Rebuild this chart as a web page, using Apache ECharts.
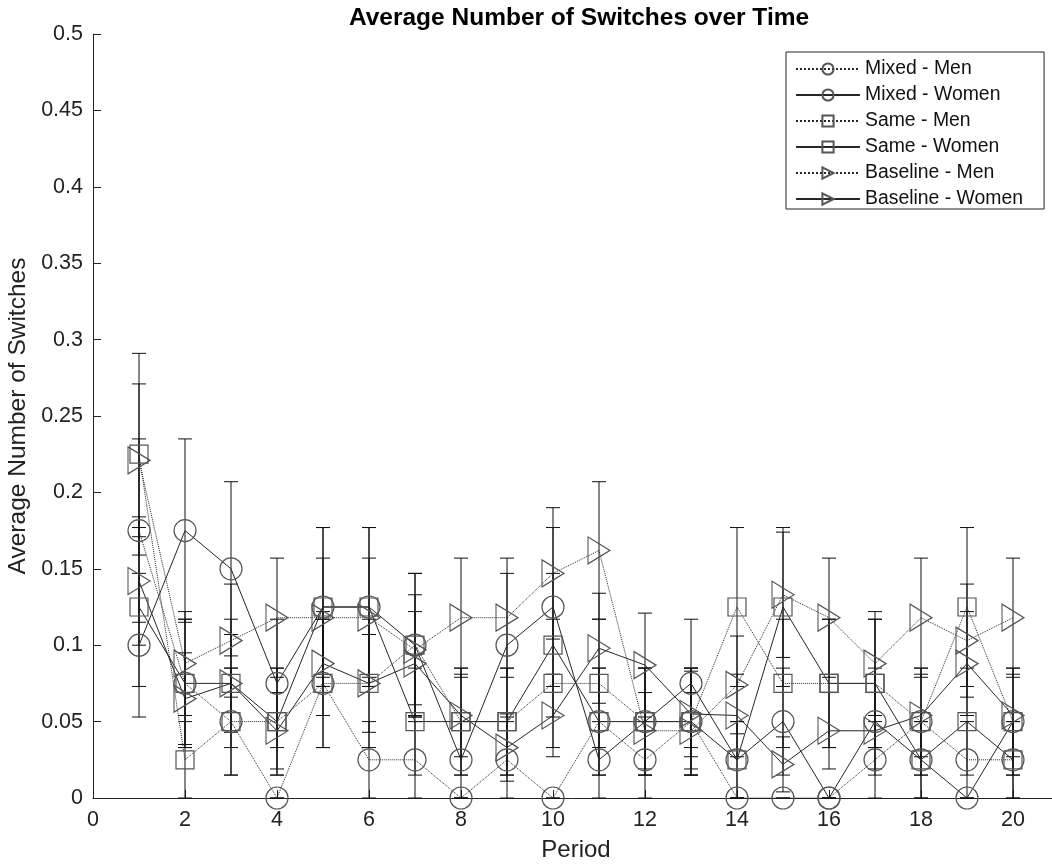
<!DOCTYPE html>
<html>
<head>
<meta charset="utf-8">
<script src="https://cdn.jsdelivr.net/npm/echarts@6/dist/echarts.min.js"></script>
<style>html,body{margin:0;padding:0;background:#fff;}#c{width:1052px;height:865px;}</style>
</head>
<body>
<div id="c"></div>
<script>
const periods = [1,2,3,4,5,6,7,8,9,10,11,12,13,14,15,16,17,18,19,20];
const xTicks = [0,2,4,6,8,10,12,14,16,18,20];

const mixedMen     = [0.175,0.075,0.05,0,0.075,0.025,0.025,0,0.025,0,0.05,0.025,0.05,0,0,0,0.025,0.05,0.025,0.025];
const mixedMenErr  = [0.060,0.042,0.035,0,0.042,0.025,0.025,0,0.025,0,0.035,0.025,0.035,0,0,0,0.025,0.035,0.025,0.025];
const mixedWomen    = [0.1,0.175,0.15,0.075,0.125,0.125,0.1,0.025,0.1,0.125,0.025,0.05,0.075,0.025,0.05,0,0.05,0.025,0,0.05];
const mixedWomenErr = [0.047,0.060,0.057,0.042,0.052,0.052,0.047,0.025,0.047,0.052,0.025,0.035,0.042,0.025,0.035,0,0.035,0.025,0,0.035];
const sameMen     = [0.225,0.025,0.05,0.05,0.075,0.075,0.1,0.05,0.05,0.075,0.075,0.05,0.05,0.125,0.075,0.075,0.075,0.05,0.125,0.05];
const sameMenErr  = [0.066,0.025,0.035,0.035,0.042,0.042,0.047,0.035,0.035,0.042,0.042,0.035,0.035,0.052,0.042,0.042,0.042,0.035,0.052,0.035];
const sameWomen    = [0.125,0.075,0.075,0.05,0.125,0.125,0.05,0.05,0.05,0.1,0.05,0.05,0.05,0.025,0.125,0.075,0.075,0.025,0.05,0.025];
const sameWomenErr = [0.052,0.042,0.042,0.035,0.052,0.052,0.035,0.035,0.035,0.047,0.035,0.035,0.035,0.025,0.052,0.042,0.042,0.025,0.035,0.025];
const baseMen     = [0.221,0.088,0.103,0.118,0.118,0.118,0.097,0.118,0.118,0.147,0.162,0.044,0.044,0.074,0.133,0.118,0.088,0.118,0.103,0.118];
const baseMenErr  = [0.050,0.034,0.037,0.039,0.039,0.039,0.036,0.039,0.039,0.043,0.045,0.025,0.025,0.032,0.041,0.039,0.034,0.039,0.037,0.039];
const baseWomen    = [0.142,0.065,0.075,0.044,0.088,0.075,0.088,0.054,0.033,0.054,0.098,0.087,0.055,0.054,0.022,0.044,0.044,0.054,0.088,0.054];
const baseWomenErr = [0.042,0.030,0.032,0.025,0.034,0.032,0.034,0.027,0.022,0.027,0.036,0.034,0.028,0.027,0.018,0.025,0.025,0.027,0.034,0.027];

const names = ['Mixed - Men','Mixed - Women','Same - Men','Same - Women','Baseline - Men','Baseline - Women'];

const FONT = '"Liberation Sans", Arial, Helvetica, sans-serif';
const LINE = '#262626';
const MARK = '#555555';

function pairs(v, e) { return periods.map((p, i) => [p, v[i], e[i]]); }

const defs = [
  {name: names[0], v: mixedMen, e: mixedMenErr, dash: 'dotted', sym: 'circle', size: 22, rot: 0},
  {name: names[1], v: mixedWomen, e: mixedWomenErr, dash: 'solid', sym: 'circle', size: 22, rot: 0},
  {name: names[2], v: sameMen, e: sameMenErr, dash: 'dotted', sym: 'rect', size: 18, rot: 0},
  {name: names[3], v: sameWomen, e: sameWomenErr, dash: 'solid', sym: 'rect', size: 18, rot: 0},
  {name: names[4], v: baseMen, e: baseMenErr, dash: 'dotted', sym: 'triangle', size: [27, 22], rot: -90},
  {name: names[5], v: baseWomen, e: baseWomenErr, dash: 'solid', sym: 'triangle', size: [27, 22], rot: -90}
];

const series = [];
defs.forEach(d => {
  series.push({
    type: 'custom',
    name: d.name + ' err',
    data: pairs(d.v, d.e),
    silent: true,
    z: 2,
    renderItem: function (params, api) {
      const x = api.value(0), y = api.value(1), e = api.value(2);
      const top = api.coord([x, y + e]);
      const bot = api.coord([x, y - e]);
      const hw = 7;
      const st = {stroke: '#111', lineWidth: 1};
      return {
        type: 'group',
        children: [
          {type: 'line', shape: {x1: top[0], y1: top[1], x2: bot[0], y2: bot[1]}, style: st},
          {type: 'line', shape: {x1: top[0] - hw, y1: top[1], x2: top[0] + hw, y2: top[1]}, style: st},
          {type: 'line', shape: {x1: bot[0] - hw, y1: bot[1], x2: bot[0] + hw, y2: bot[1]}, style: st}
        ]
      };
    }
  });
  series.push({
    type: 'line',
    name: d.name,
    data: periods.map((p, i) => [p, d.v[i]]),
    symbol: d.sym,
    symbolSize: d.size,
    symbolRotate: d.rot,
    showAllSymbol: true,
    z: 3,
    lineStyle: {color: LINE, width: 1, type: d.dash},
    itemStyle: {color: 'rgba(255,255,255,0)', borderColor: MARK, borderWidth: 1.2},
    emphasis: {disabled: true},
    animation: false
  });
});

const chart = echarts.init(document.getElementById('c'), null, {renderer: 'canvas'});
chart.setOption({
  animation: false,
  backgroundColor: '#ffffff',
  title: {
    text: 'Average Number of Switches over Time',
    left: 574, top: 1, textAlign: 'center',
    textStyle: {fontFamily: FONT, fontSize: 24.5, fontWeight: 'bold', color: '#000'}
  },
  legend: {
    data: names,
    orient: 'vertical',
    left: 786, top: 52,
    padding: [7, 21, 0, 9],
    itemGap: 6,
    itemWidth: 64,
    itemHeight: 14,
    borderColor: '#222', borderWidth: 1,
    backgroundColor: '#fff',
    textStyle: {fontFamily: FONT, fontSize: 19.4, lineHeight: 20, color: '#111'},
    selectedMode: false
  },
  grid: {left: 93, top: 34, width: 966, height: 764, containLabel: false, outerBoundsMode: 'none'},
  xAxis: {
    type: 'value', min: 0, max: 21, interval: 2,
    name: 'Period', nameLocation: 'middle', nameGap: 40,
    nameTextStyle: {fontFamily: FONT, fontSize: 24, color: '#222'},
    axisLine: {show: true, onZero: false, lineStyle: {color: '#222', width: 1}},
    axisTick: {show: true, inside: true, length: 8, lineStyle: {color: '#222'}},
    axisLabel: {fontFamily: FONT, fontSize: 21.5, color: '#222', margin: 11,
      formatter: v => (xTicks.indexOf(v) >= 0 ? String(v) : '')},
    splitLine: {show: false}
  },
  yAxis: {
    type: 'value', min: 0, max: 0.5, interval: 0.05,
    name: 'Average Number of Switches', nameLocation: 'middle', nameGap: 59,
    nameTextStyle: {fontFamily: FONT, fontSize: 24.5, color: '#222'},
    axisLine: {show: true, lineStyle: {color: '#222', width: 1}},
    axisTick: {show: true, inside: true, length: 8, lineStyle: {color: '#222'}},
    axisLabel: {fontFamily: FONT, fontSize: 21.5, color: '#222', margin: 10,
      formatter: v => String(Math.round(v * 100) / 100)},
    splitLine: {show: false}
  },
  series: series
});
</script>
</body>
</html>
